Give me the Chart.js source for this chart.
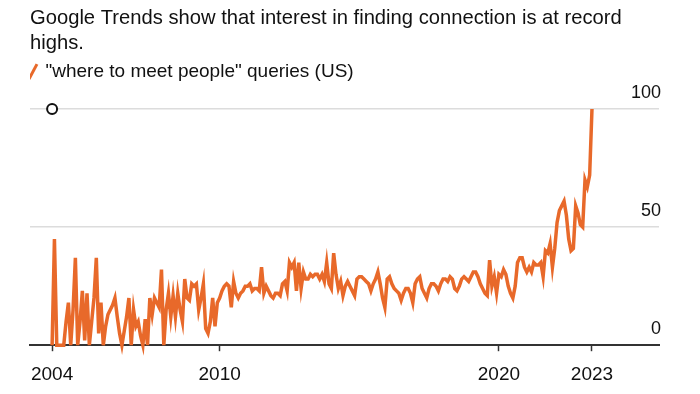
<!DOCTYPE html>
<html>
<head>
<meta charset="utf-8">
<script src="https://cdn.jsdelivr.net/npm/chart.js@4.4.0/dist/chart.umd.min.js"></script>
<style>
  html, body { margin: 0; padding: 0; background: #fff; }
  #wrap { width: 700px; height: 394px; }
</style>
</head>
<body>
<div id="wrap"><canvas id="trends" width="700" height="394"></canvas></div>
<script>
// monthly Google Trends index, Jan 2004 .. May 2023
const seriesLabel = '"where to meet people" queries (US)';
const values = [
  0, 45, 0, 0, 0, 0, 10, 18, 0, 15, 37, 0, 10, 23, 2, 22, 0, 10, 20, 37,
  5, 18, 0, 8, 13, 15, 17, 20, 12, 5, 0, 6, 12, 20, 0, 15, 8, 10, 4, 0,
  11, 0, 20, 13, 20, 18, 16, 32, 0, 15, 22, 12, 21, 12, 22, 15, 10, 28, 20, 19,
  26, 25, 26, 15, 20, 26, 7, 5, 10, 20, 8, 18, 20, 23, 25, 26, 25, 16, 27, 22,
  20, 22, 23, 25, 25, 26, 23, 24, 24, 23, 33, 22, 25, 23, 21, 20, 22, 22, 21, 26,
  27, 23, 35, 33, 35, 23, 35, 24, 31, 28, 28, 30, 29, 30, 30, 28, 30, 27, 35, 26,
  24, 39, 30, 24, 27, 21, 25, 27, 25, 23, 21, 28, 29, 29, 28, 27, 26, 23, 26, 28,
  31, 26, 20, 16, 28, 29, 26, 24, 23, 22, 19, 22, 24, 24, 22, 18, 26, 28, 29, 24,
  22, 20, 24, 26, 26, 25, 23, 26, 28, 28, 27, 29, 28, 24, 23, 25, 28, 29, 28, 27,
  29, 31, 31, 29, 26, 24, 22, 21, 36, 25, 29, 22, 30, 29, 32, 30, 25, 22, 20, 25,
  35, 37, 37, 33, 31, 33, 31, 35, 34, 34, 35, 29, 40, 39, 43, 33, 41, 52, 57, 59,
  61, 55, 45, 40, 41, 59, 56, 51, 50, 70, 67, 72, 100
];
const tickMonths = [0, 72, 192, 232];
const tickLabels = ['2004', '2010', '2020', '2023'];
const yTicks = [0, 50, 100];
const markerPoint = [{ x: 0, y: 100 }];

const orange = '#e8692a';
const sans = "'Liberation Sans', Arial, sans-serif";

const ctx = document.getElementById('trends');
new Chart(ctx, {
  type: 'line',
  data: {
    datasets: [
      {
        label: seriesLabel,
        data: values.map((v, i) => ({ x: i, y: v })),
        borderColor: orange,
        backgroundColor: orange,
        borderWidth: 3.5,
        pointRadius: 0,
        pointHoverRadius: 0,
        pointStyle: 'line',
        pointRotation: -62,
        pointBorderWidth: 3,
        pointBorderColor: orange,
        tension: 0,
        clip: false,
      },
      {
        label: 'marker',
        data: markerPoint,
        showLine: false,
        pointRadius: 5,
        pointBorderWidth: 2,
        pointBorderColor: '#111',
        pointBackgroundColor: '#fff',
        clip: false,
      },
    ],
  },
  options: {
    responsive: false,
    animation: false,
    events: [],
    layout: { padding: { left: 30, right: 37, top: 4, bottom: -4 } },
    plugins: {
      tooltip: { enabled: false },
      title: {
        display: true,
        align: 'start',
        text: ['Google Trends show that interest in finding connection is at record', 'highs.'],
        color: '#111',
        font: { family: sans, size: 20.2, weight: 'normal', lineHeight: 1.24 },
        padding: { top: 2, bottom: 6 },
      },
      legend: {
        display: true,
        align: 'start',
        labels: {
          filter: (item) => item.datasetIndex === 0,
          usePointStyle: true,
          boxWidth: 6,
          boxHeight: 12,
          color: '#111',
          font: { family: sans, size: 19 },
          padding: 0,
        },
      },
    },
    scales: {
      x: {
        type: 'linear',
        min: -9.5,
        max: 260.8,
        afterBuildTicks: (axis) => {
          axis.ticks = tickMonths.map((m) => ({ value: m }));
        },
        ticks: {
          autoSkip: false,
          maxRotation: 0,
          color: '#111',
          font: { family: sans, size: 19 },
          padding: 12,
          callback: (value) => tickLabels[tickMonths.indexOf(value)],
        },
        grid: {
          drawOnChartArea: false,
          drawTicks: true,
          tickLength: 6,
          tickWidth: 1.5,
          color: '#333',
        },
        border: { display: true, color: '#333', width: 2 },
      },
      y: {
        position: 'right',
        min: 0,
        max: 107.6,
        afterBuildTicks: (axis) => {
          axis.ticks = yTicks.map((v) => ({ value: v }));
        },
        ticks: {
          mirror: true,
          labelOffset: -16,
          padding: 2,
          color: '#111',
          font: { family: sans, size: 18 },
        },
        grid: {
          drawTicks: false,
          lineWidth: 1.5,
          color: (c) => (c.tick && c.tick.value === 0 ? 'rgba(0,0,0,0)' : '#dcdcdc'),
        },
        border: { display: false },
      },
    },
  },
});
</script>
</body>
</html>
